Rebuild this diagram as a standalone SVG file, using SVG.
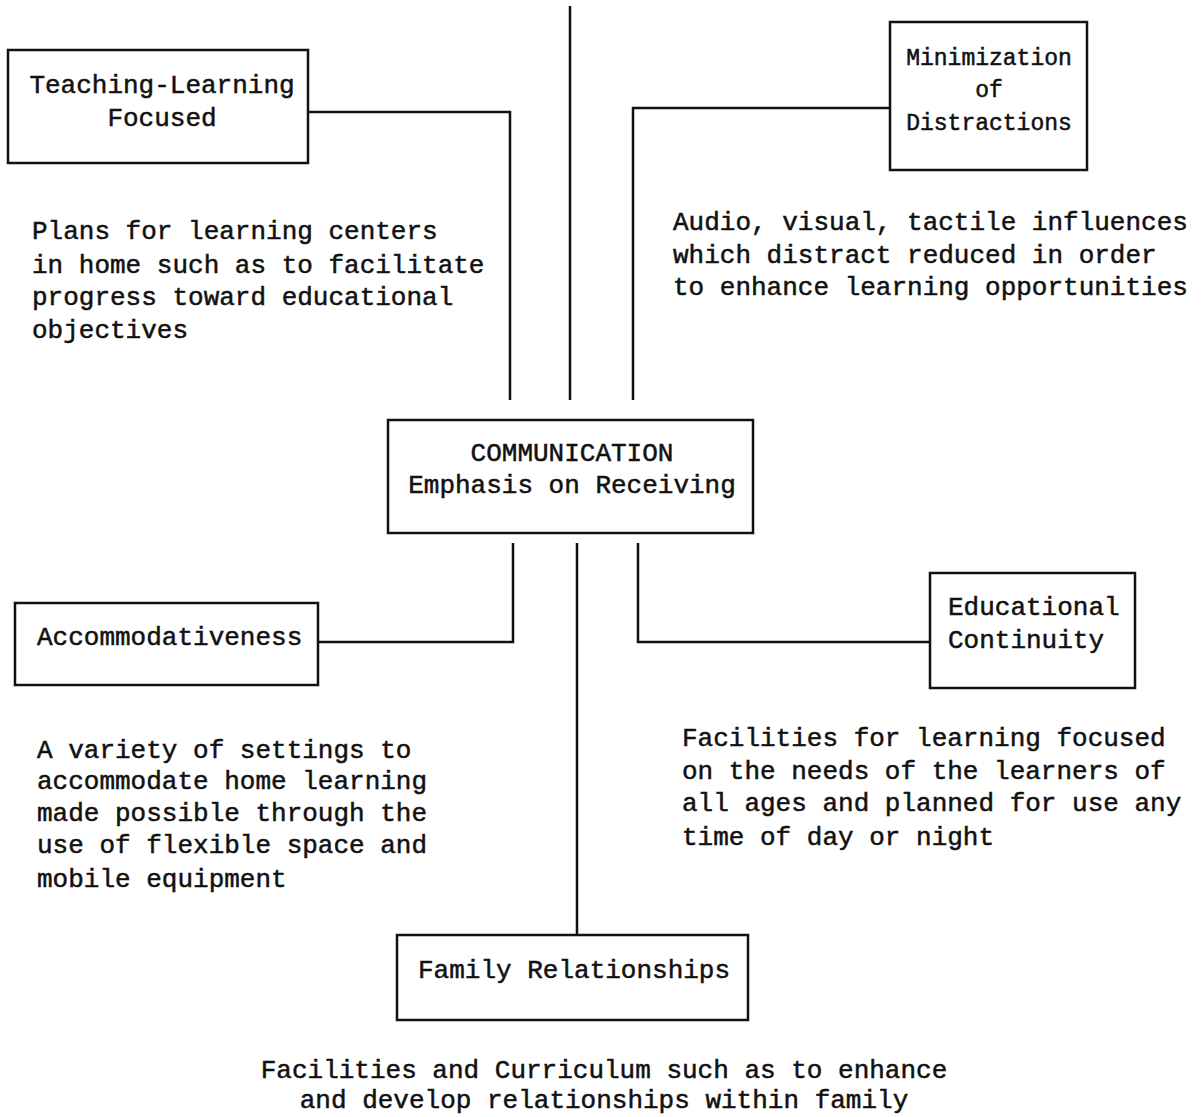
<svg xmlns="http://www.w3.org/2000/svg" width="1203" height="1117" viewBox="0 0 1203 1117">
<style>
  .box { fill: none; stroke: #111; stroke-width: 2.5; }
  .ln { fill: none; stroke: #111; stroke-width: 2.5; }
  text { font-family: "Liberation Mono", "Courier New", monospace; font-size: 26px; fill: #111; stroke: #111; stroke-width: 0.5; }
  .m { text-anchor: middle; }
  .sm { font-size: 23px; }
</style>
<rect width="1203" height="1117" fill="#fff"/>
<g id="connectors">
  <polyline class="ln" points="570,6 570,400"/>
  <polyline class="ln" points="308,112 510,112 510,400"/>
  <polyline class="ln" points="890,108 633,108 633,400"/>
  <polyline class="ln" points="318,642 513,642 513,543"/>
  <polyline class="ln" points="577,543 577,935"/>
  <polyline class="ln" points="638,543 638,642 930,642"/>
</g>
<g id="teaching-learning">
  <rect class="box" x="8" y="50" width="300" height="113"/>
  <text class="m" x="162" y="93">Teaching-Learning</text>
  <text class="m" x="162" y="126">Focused</text>
</g>
<g id="teaching-learning-desc">
  <text x="32" y="239">Plans for learning centers</text>
  <text x="32" y="273">in home such as to facilitate</text>
  <text x="32" y="305">progress toward educational</text>
  <text x="32" y="338">objectives</text>
</g>
<g id="minimization">
  <rect class="box" x="890" y="22" width="197" height="148"/>
  <text class="m sm" x="989" y="65">Minimization</text>
  <text class="m sm" x="989" y="97">of</text>
  <text class="m sm" x="989" y="130">Distractions</text>
</g>
<g id="minimization-desc">
  <text x="673" y="230">Audio, visual, tactile influences</text>
  <text x="673" y="263">which distract reduced in order</text>
  <text x="673" y="295">to enhance learning opportunities</text>
</g>
<g id="communication">
  <rect class="box" x="388" y="420" width="365" height="113"/>
  <text class="m" x="572" y="461">COMMUNICATION</text>
  <text class="m" x="572" y="493">Emphasis on Receiving</text>
</g>
<g id="accommodativeness">
  <rect class="box" x="15" y="603" width="303" height="82"/>
  <text x="37" y="645">Accommodativeness</text>
</g>
<g id="accommodativeness-desc">
  <text x="37" y="758">A variety of settings to</text>
  <text x="37" y="789">accommodate home learning</text>
  <text x="37" y="821">made possible through the</text>
  <text x="37" y="853">use of flexible space and</text>
  <text x="37" y="887">mobile equipment</text>
</g>
<g id="educational-continuity">
  <rect class="box" x="930" y="573" width="205" height="115"/>
  <text x="948" y="615">Educational</text>
  <text x="948" y="648">Continuity</text>
</g>
<g id="educational-continuity-desc">
  <text x="682" y="746">Facilities for learning focused</text>
  <text x="682" y="779">on the needs of the learners of</text>
  <text x="682" y="811">all ages and planned for use any</text>
  <text x="682" y="845">time of day or night</text>
</g>
<g id="family-relationships">
  <rect class="box" x="397" y="935" width="351" height="85"/>
  <text x="418" y="978">Family Relationships</text>
</g>
<g id="family-relationships-desc">
  <text class="m" x="604" y="1078">Facilities and Curriculum such as to enhance</text>
  <text class="m" x="604" y="1108">and develop relationships within family</text>
</g>
</svg>
